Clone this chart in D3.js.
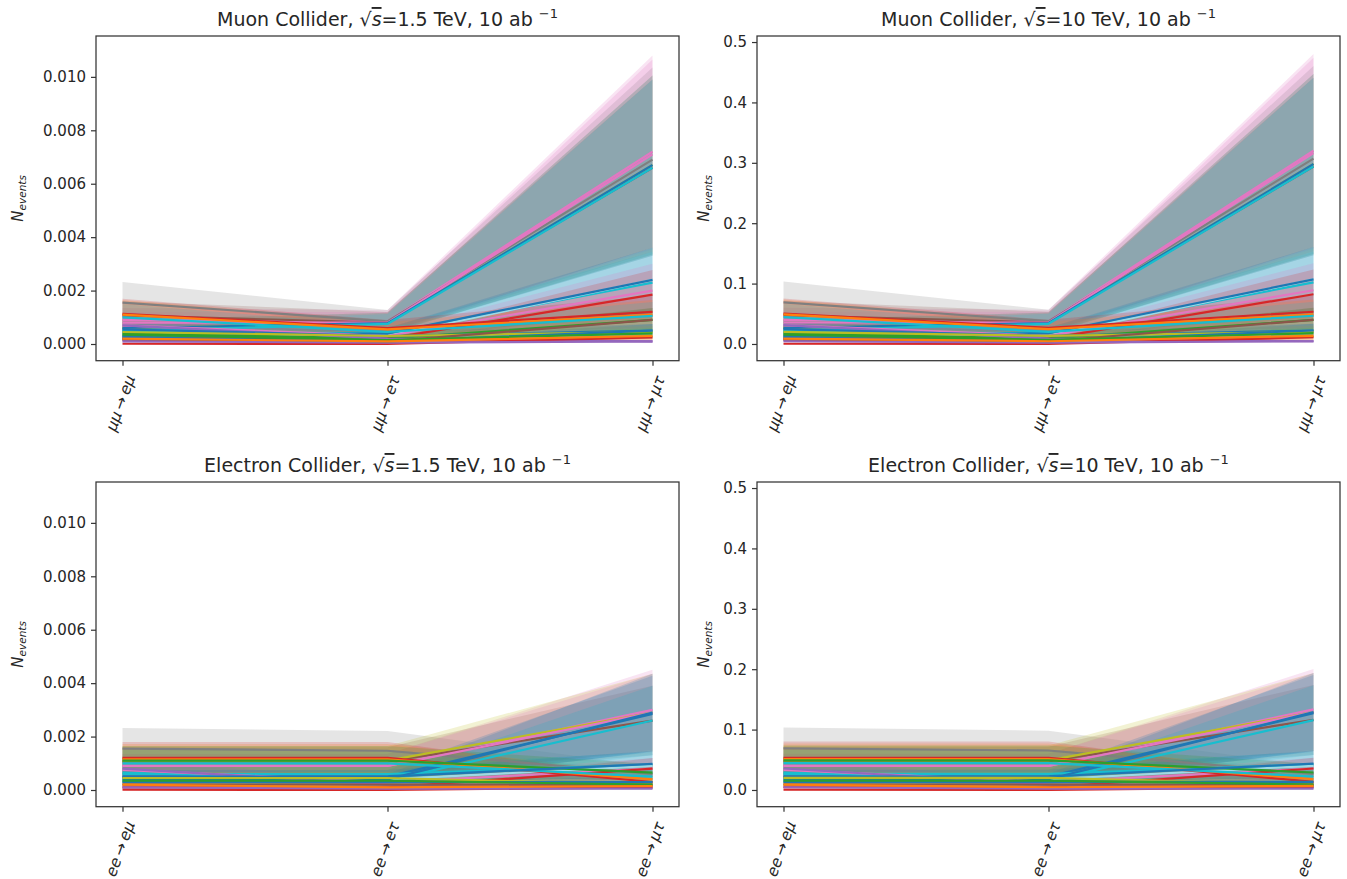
<!DOCTYPE html>
<html>
<head>
<meta charset="utf-8">
<script src="https://cdn.jsdelivr.net/npm/d3@7"></script>
<style>
  body { margin: 0; background: #fff; }
  svg { display: block; }
  text { font-family: "DejaVu Sans", sans-serif; fill: #262626; }
</style>
</head>
<body>
<svg id="chart" width="1347" height="879"></svg>
<script>
// ---------------- DATA ----------------
// Categories (x tick labels)
const muonCategories = ["μμ→eμ", "μμ→eτ", "μμ→μτ"];
const elecCategories = ["ee→eμ", "ee→eτ", "ee→μτ"];

// Colour of each model / series
const seriesColors = [
  "#e377c2", "#7f7f7f", "#8c564b", "#bcbd22", "#e377c2",
  "#1f77b4", "#17becf", "#17becf", "#9edae5", "#1f77b4",
  "#e377c2", "#d62728", "#d62728", "#ff7f0e", "#17becf",
  "#2ca02c", "#9467bd", "#1f77b4", "#bcbd22", "#8c564b",
  "#d62728", "#9467bd", "#1f77b4", "#2ca02c", "#ff7f0e"
];

// N_events per model at (e-mu, e-tau, mu-tau) — Muon Collider, sqrt(s)=1.5 TeV
const muon15 = [
  [0.0009, 0.00085, 0.0072], [0.00155, 0.00085, 0.0069], [0.00107, 0.0008, 0.0066],
  [0.0006, 0.00078, 0.0067], [0.0008, 0.0008, 0.0071], [0.0006, 0.00078, 0.0067],
  [0.0005, 0.00075, 0.0066], [0.00045, 0.0004, 0.0023], [0.0004, 0.0003, 0.0024],
  [0.0003, 0.0004, 0.0024], [0.0007, 0.0003, 0.0020], [0.0002, 0.0002, 0.00185],
  [0.00113, 0.0006, 0.0012], [0.0011, 0.00055, 0.0011], [0.001, 0.00045, 0.00105],
  [0.0004, 0.0002, 0.0009], [0.0007, 0.0002, 0.0001], [0.00055, 0.0003, 0.0005],
  [0.00045, 0.0003, 0.00045], [0.00015, 0.0001, 0.0009], [0.00001, 0.0, 0.00025],
  [0.0001, 0.00005, 0.0001], [0.00025, 0.0001, 0.0005], [0.00035, 0.00015, 0.0004],
  [0.0002, 0.0001, 0.0003]
];

// Muon Collider, sqrt(s)=10 TeV
const muon10 = [
  [0.040, 0.0378, 0.320], [0.069, 0.0378, 0.307], [0.0476, 0.0356, 0.294],
  [0.0267, 0.0347, 0.298], [0.0356, 0.0356, 0.316], [0.0267, 0.0347, 0.298],
  [0.0223, 0.0334, 0.294], [0.020, 0.0178, 0.102], [0.0178, 0.0134, 0.107],
  [0.0134, 0.0178, 0.107], [0.0312, 0.0134, 0.089], [0.0089, 0.0089, 0.0823],
  [0.0503, 0.0267, 0.0534], [0.049, 0.0245, 0.049], [0.0445, 0.020, 0.0467],
  [0.0178, 0.0089, 0.040], [0.0312, 0.0089, 0.0045], [0.0245, 0.0134, 0.0223],
  [0.020, 0.0134, 0.020], [0.0067, 0.0045, 0.040], [0.0004, 0.0, 0.0111],
  [0.0045, 0.0022, 0.0045], [0.0111, 0.0045, 0.0223], [0.0156, 0.0067, 0.0178],
  [0.0089, 0.0045, 0.0134]
];

// Electron Collider, sqrt(s)=1.5 TeV
const elec15 = [
  [0.0009, 0.0009, 0.0030], [0.00155, 0.00147, 0.0006], [0.00107, 0.00107, 0.0026],
  [0.0011, 0.0011, 0.0029], [0.0009, 0.0009, 0.0029], [0.0005, 0.0005, 0.00285],
  [0.00065, 0.00035, 0.0026], [0.0006, 0.0006, 0.00095], [0.0004, 0.0004, 0.0009],
  [0.0004, 0.0004, 0.0029], [0.00075, 0.0003, 0.0008], [0.0001, 0.0001, 0.0008],
  [0.0012, 0.0012, 0.0003], [0.00115, 0.00115, 0.0004], [0.001, 0.001, 0.0005],
  [0.0011, 0.0011, 0.00065], [0.0008, 0.0002, 0.0001], [0.0005, 0.0005, 0.00098],
  [0.00045, 0.00045, 0.0002], [0.0002, 0.0002, 0.0002], [0.00001, 0.0, 0.0001],
  [0.0001, 0.00005, 0.00005], [0.0003, 0.0003, 0.0003], [0.00035, 0.00035, 0.0002],
  [0.0002, 0.0001, 0.00015]
];

// Electron Collider, sqrt(s)=10 TeV
const elec10 = [
  [0.040, 0.040, 0.1335], [0.069, 0.0654, 0.0267], [0.0476, 0.0476, 0.116],
  [0.049, 0.049, 0.129], [0.040, 0.040, 0.129], [0.0223, 0.0223, 0.127],
  [0.0289, 0.0156, 0.1157], [0.0267, 0.0267, 0.0423], [0.0178, 0.0178, 0.040],
  [0.0178, 0.0178, 0.129], [0.0334, 0.0134, 0.0356], [0.0045, 0.0045, 0.0356],
  [0.0534, 0.0534, 0.0134], [0.0512, 0.0512, 0.0178], [0.0445, 0.0445, 0.0223],
  [0.049, 0.049, 0.0289], [0.0356, 0.0089, 0.0045], [0.0223, 0.0223, 0.0436],
  [0.020, 0.020, 0.0089], [0.0089, 0.0089, 0.0089], [0.0004, 0.0, 0.0045],
  [0.0045, 0.0022, 0.0022], [0.0134, 0.0134, 0.0134], [0.0156, 0.0156, 0.0089],
  [0.0089, 0.0045, 0.0067]
];

// Relative uncertainty of each band (band = value * (1 ± relUncertainty))
const relUncertainty = 0.5;

// Tick values
const yTicks15 = [0, 0.002, 0.004, 0.006, 0.008, 0.010];
const yTicks10 = [0, 0.1, 0.2, 0.3, 0.4, 0.5];

// ---------------- LAYOUT ----------------
const svg = d3.select("#chart");
const colLeft = { left: 96, right: 679, yDomain: [-0.000625, 0.01153], ticks: yTicks15, fmt: d3.format(".3f"), ylabX: 23 };
const colRight = { left: 757, right: 1340, yDomain: [-0.0277, 0.51], ticks: yTicks10, fmt: d3.format(".1f"), ylabX: 709 };
const rowTop = { top: 36, bottom: 360.7 };
const rowBot = { top: 482, bottom: 806.7 };

const panels = [
  { col: colLeft, row: rowTop, data: muon15, cats: muonCategories, name: "Muon Collider", energy: "1.5" },
  { col: colRight, row: rowTop, data: muon10, cats: muonCategories, name: "Muon Collider", energy: "10" },
  { col: colLeft, row: rowBot, data: elec15, cats: elecCategories, name: "Electron Collider", energy: "1.5" },
  { col: colRight, row: rowBot, data: elec10, cats: elecCategories, name: "Electron Collider", energy: "10" }
];

panels.forEach(p => {
  const L = p.col.left, R = p.col.right, T = p.row.top, B = p.row.bottom;
  const x = d3.scaleLinear().domain([-0.1, 2.1]).range([L, R]);
  const y = d3.scaleLinear().domain(p.col.yDomain).range([B, T]);
  const g = svg.append("g");

  const area = d3.area()
    .x((d, i) => x(i))
    .y0(d => y(d * (1 - relUncertainty)))
    .y1(d => y(d * (1 + relUncertainty)));
  const line = d3.line().x((d, i) => x(i)).y(d => y(d));

  g.selectAll("path.band").data(p.data).join("path")
    .attr("class", "band")
    .attr("d", area)
    .attr("fill", (d, i) => seriesColors[i])
    .attr("fill-opacity", 0.2)
    .attr("stroke", "none");

  g.selectAll("path.line").data(p.data).join("path")
    .attr("class", "line")
    .attr("d", line)
    .attr("fill", "none")
    .attr("stroke", (d, i) => seriesColors[i])
    .attr("stroke-width", 2.2)
    .attr("stroke-linejoin", "round");

  // Y axis
  const yAxis = d3.axisLeft(y).tickValues(p.col.ticks).tickFormat(p.col.fmt).tickSize(5).tickPadding(5);
  const ya = g.append("g").attr("transform", `translate(${L},0)`).call(yAxis);
  ya.select(".domain").remove();
  ya.selectAll(".tick line").attr("stroke", "#333").attr("stroke-width", 1.2);
  ya.selectAll(".tick text").style("font-size", "15px").attr("fill", "#262626").attr("font-family", "DejaVu Sans");

  // X axis ticks
  const xAxis = d3.axisBottom(x).tickValues([0, 1, 2]).tickFormat("").tickSize(5);
  const xa = g.append("g").attr("transform", `translate(0,${B})`).call(xAxis);
  xa.select(".domain").remove();
  xa.selectAll(".tick line").attr("stroke", "#333").attr("stroke-width", 1.2);

  // X tick labels (rotated 70°)
  p.cats.forEach((c, i) => {
    const lg = g.append("g");
    const t = lg.append("text").attr("transform", "rotate(-70)").attr("text-anchor", "end").style("font-size", "15.5px");
    let afterArrow = false;
    for (const ch of c) {
      const s = t.append("tspan").text(ch).style("font-style", ch === "→" ? "normal" : "italic");
      if (ch === "→") { s.attr("dx", 3); afterArrow = true; }
      else if (afterArrow) { s.attr("dx", 3); afterArrow = false; }
    }
    const bb = lg.node().getBBox();
    lg.attr("transform", `translate(${x(i) - (bb.x + bb.width / 2) - 2},${B + 12 - bb.y})`);
  });

  // Y label
  const yl = g.append("text")
    .attr("transform", `translate(${p.col.ylabX},${(T + B) / 2}) rotate(-90)`)
    .attr("text-anchor", "middle");
  yl.append("tspan").text("N").style("font-style", "italic").style("font-size", "15px");
  yl.append("tspan").text("events").style("font-style", "italic").style("font-size", "10.5px").attr("dy", 3);

  // Title
  const tt = g.append("text").attr("x", (L + R) / 2).attr("y", T - 10)
    .attr("text-anchor", "middle").style("font-size", "19px");
  tt.append("tspan").text(p.name + ", √");
  tt.append("tspan").text("s").style("font-style", "italic").style("text-decoration", "overline");
  tt.append("tspan").text("=" + p.energy + " TeV, 10 ab ");
  tt.append("tspan").text("−1").style("font-size", "13px").attr("dy", -8);

  // Frame
  g.append("rect").attr("x", L).attr("y", T).attr("width", R - L).attr("height", B - T)
    .attr("fill", "none").attr("stroke", "#333").attr("stroke-width", 1.25);
});
</script>
</body>
</html>
